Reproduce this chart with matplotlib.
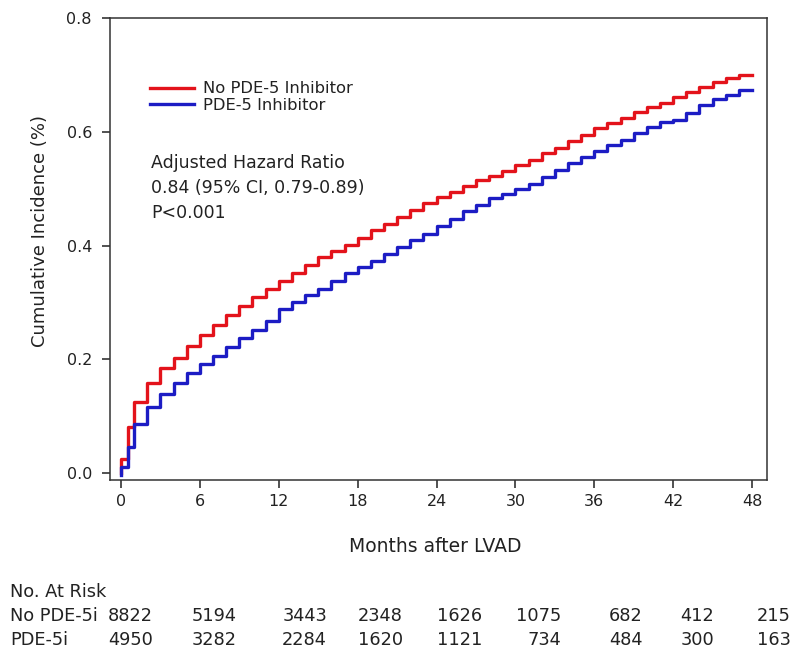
import matplotlib
matplotlib.use("Agg")
import matplotlib.pyplot as plt

# ---------------- data ----------------
months = [0, 0, 0.5, 1, 2, 3, 4, 5, 6, 7, 8, 9, 10, 11, 12, 13, 14, 15, 16, 17, 18,
          19, 20, 21, 22, 23, 24, 25, 26, 27, 28, 29, 30, 31, 32, 33, 34, 35, 36,
          37, 38, 39, 40, 41, 42, 43, 44, 45, 46, 47, 48]
no_pde5 = [0.0, 0.025, 0.081, 0.124, 0.159, 0.185, 0.202, 0.223, 0.242, 0.260, 0.277,
           0.294, 0.310, 0.324, 0.338, 0.352, 0.365, 0.379, 0.391, 0.401, 0.413,
           0.427, 0.438, 0.450, 0.462, 0.474, 0.486, 0.494, 0.505, 0.515, 0.523,
           0.531, 0.542, 0.550, 0.562, 0.572, 0.583, 0.595, 0.606, 0.615, 0.625,
           0.635, 0.643, 0.651, 0.661, 0.670, 0.678, 0.688, 0.695, 0.700, 0.700]
pde5 = [-0.004, 0.010, 0.046, 0.086, 0.116, 0.139, 0.158, 0.176, 0.192, 0.206, 0.222,
        0.238, 0.252, 0.267, 0.288, 0.301, 0.313, 0.324, 0.338, 0.352, 0.363,
        0.373, 0.385, 0.397, 0.409, 0.420, 0.434, 0.447, 0.460, 0.472, 0.483,
        0.491, 0.500, 0.509, 0.521, 0.533, 0.545, 0.556, 0.566, 0.576, 0.586,
        0.598, 0.609, 0.617, 0.621, 0.633, 0.647, 0.657, 0.665, 0.674, 0.674]

series_labels = ["No PDE-5 Inhibitor", "PDE-5 Inhibitor"]
x_ticks = [0, 6, 12, 18, 24, 30, 36, 42, 48]
y_ticks = [0.0, 0.2, 0.4, 0.6, 0.8]

risk_groups = ["No PDE-5i", "PDE-5i"]
risk_no_pde5 = [8822, 5194, 3443, 2348, 1626, 1075, 682, 412, 215]
risk_pde5 = [4950, 3282, 2284, 1620, 1121, 734, 484, 300, 163]

annot_lines = ["Adjusted Hazard Ratio", "0.84 (95% CI, 0.79-0.89)", "P<0.001"]

# ---------------- layout ----------------
W, H = 796, 656
fig = plt.figure(figsize=(W / 100, H / 100), dpi=100)
plt.rcParams['font.family'] = ['DejaVu Sans']
txt_col = '#222222'

ax_l, ax_r, ax_t, ax_b = 110, 767, 18, 480
ax = fig.add_axes([ax_l / W, 1 - ax_b / H, (ax_r - ax_l) / W, (ax_b - ax_t) / H])

red = '#e3131b'
blue = '#1c1cc4'
ax.step(months, no_pde5, where='post', color=red, lw=2.4, label=series_labels[0])
ax.step(months, pde5, where='post', color=blue, lw=2.4, label=series_labels[1])

ax.set_xlim(-0.84, 49.14)
ax.set_ylim(-0.0123, 0.8)
ax.set_xticks(x_ticks)
ax.set_xticklabels([str(t) for t in x_ticks])
ax.set_yticks(y_ticks)
ax.set_yticklabels([f"{v:.1f}" for v in y_ticks])
ax.tick_params(direction='out', length=6, width=1.1, color='#222222',
               labelsize=11.5, labelcolor=txt_col, pad=4)
ax.tick_params(axis='y', pad=7)
for s in ax.spines.values():
    s.set_linewidth(1.1)
    s.set_color('#333333')

ax.set_xlabel("Months after LVAD", fontsize=13.5, color=txt_col)
ax.xaxis.set_label_coords(0.495, -0.123)
ax.set_ylabel("Cumulative Incidence (%)", fontsize=13, color=txt_col)
ax.yaxis.set_label_coords(-0.1065, 0.54)
ax.yaxis.label.set_va('center')

leg = ax.legend(loc='upper left', bbox_to_anchor=(0.061, 0.863), frameon=False,
                handlelength=2.7, handletextpad=0.5, labelspacing=0.1,
                borderpad=0, borderaxespad=0, fontsize=11.8)
for t in leg.get_texts():
    t.set_color(txt_col)

annot_y_px = [163, 188, 213]
for line, ypx in zip(annot_lines, annot_y_px):
    fig.text(151 / W, 1 - ypx / H, line, fontsize=12.5, color=txt_col,
             ha='left', va='center')

# ---------------- at-risk table ----------------
tbl_fs = 12.8
fig.text(10 / W, 1 - 592 / H, "No. At Risk", fontsize=tbl_fs, color=txt_col,
         ha='left', va='center')
col_right_px = [153, 237, 327, 403, 482, 561, 643, 714, 791]
for name, vals, ypx in zip(risk_groups, [risk_no_pde5, risk_pde5], [616, 640]):
    fig.text(10 / W, 1 - ypx / H, name, fontsize=tbl_fs, color=txt_col,
             ha='left', va='center')
    for v, xpx in zip(vals, col_right_px):
        fig.text(xpx / W, 1 - ypx / H, str(v), fontsize=tbl_fs, color=txt_col,
                 ha='right', va='center')

fig.savefig("out.png", dpi=100, facecolor='white')
